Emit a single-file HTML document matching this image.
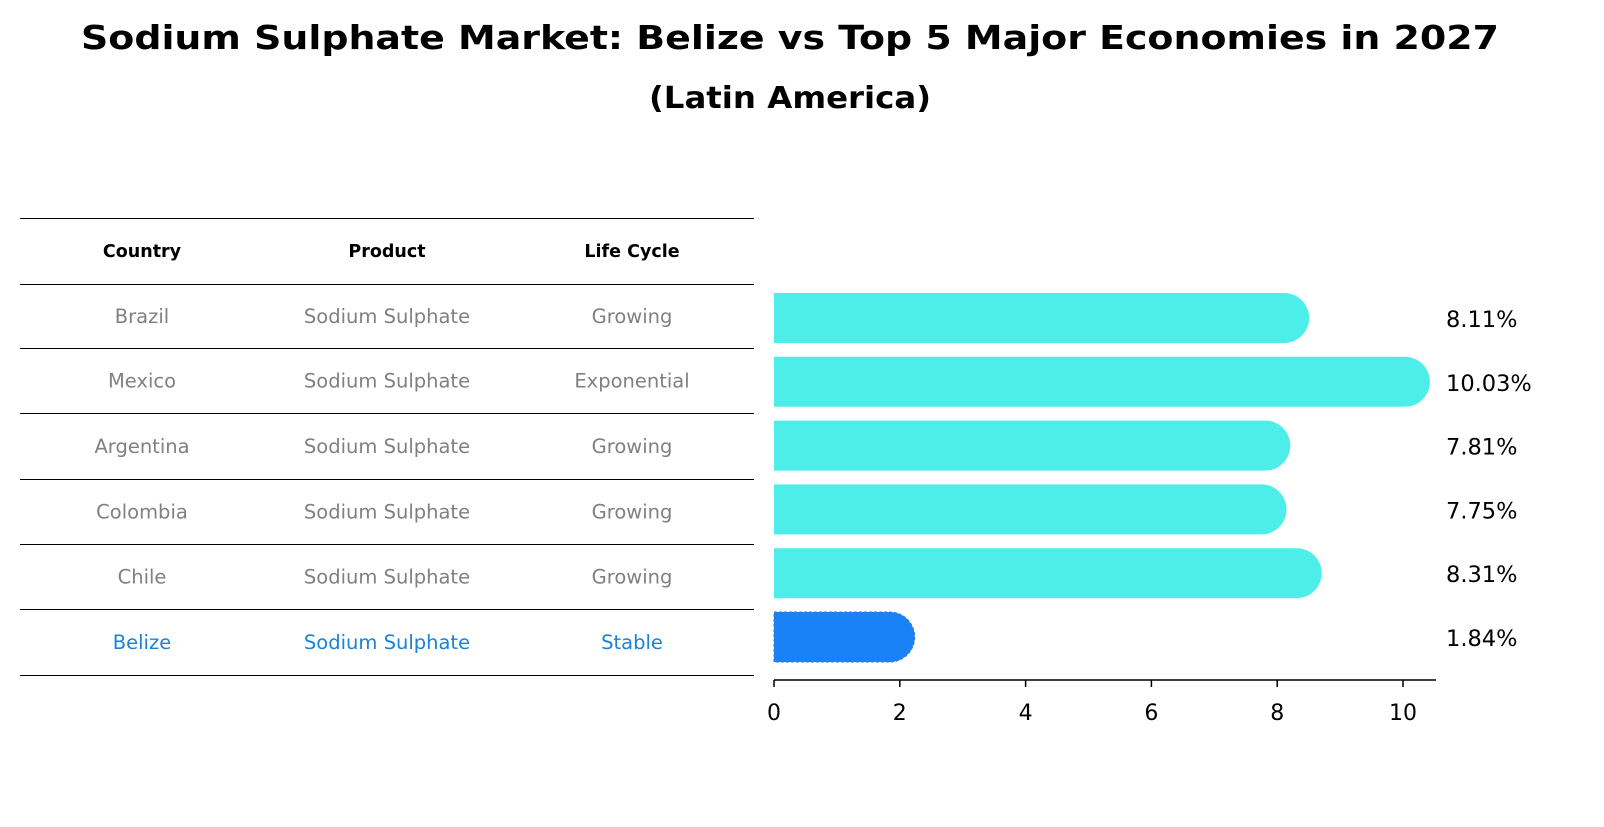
<!DOCTYPE html>
<html><head><meta charset="utf-8"><style>
body{margin:0;background:#fff;font-family:"DejaVu Sans","Liberation Sans",sans-serif;}
svg text{font-family:"DejaVu Sans","Liberation Sans",sans-serif;}
</style></head><body>
<svg id="c" width="1604" height="823" xmlns="http://www.w3.org/2000/svg">
<text x="790" y="49" text-anchor="middle" font-size="33" font-weight="bold" textLength="1418" lengthAdjust="spacingAndGlyphs">Sodium Sulphate Market: Belize vs Top 5 Major Economies in 2027</text>
<text x="790" y="108" text-anchor="middle" font-size="30" font-weight="bold" textLength="282" lengthAdjust="spacingAndGlyphs">(Latin America)</text>
<g id="tbl"></g>
<g id="bars"></g>
</svg>
<script>
const countries=["Brazil","Mexico","Argentina","Colombia","Chile","Belize"];
const products=["Sodium Sulphate","Sodium Sulphate","Sodium Sulphate","Sodium Sulphate","Sodium Sulphate","Sodium Sulphate"];
const lifeCycles=["Growing","Exponential","Growing","Growing","Growing","Stable"];
const values=[8.11,10.03,7.81,7.75,8.31,1.84];
const ticks=[0,2,4,6,8,10];
const NS="http://www.w3.org/2000/svg";
function mk(t,a,p,txt){const e=document.createElementNS(NS,t);for(const k in a)e.setAttribute(k,a[k]);if(txt!==undefined)e.textContent=txt;p.appendChild(e);return e;}
const tbl=document.getElementById('tbl');
const lines=[218,284,348,413,479,544,609,675];
lines.forEach(y=>{const l=mk('line',{x1:20,x2:754,y1:y+0.5,y2:y+0.5,stroke:'#000','stroke-width':1},tbl);

});
const cx=[142,387,632];
["Country","Product","Life Cycle"].forEach((h,i)=>{const t=mk('text',{x:cx[i],y:257,'text-anchor':'middle','font-size':17.5,'font-weight':'bold'},tbl,h);

});
countries.forEach((c,i)=>{const y=(lines[i+1]+lines[i+2])/2+7;const col=c==="Belize"?"#1a82d8":"#808080";
[c,products[i],lifeCycles[i]].forEach((v,j)=>{const t=mk('text',{x:cx[j],y:y,'text-anchor':'middle','font-size':19.5,fill:col},tbl,v);

});});
const bars=document.getElementById('bars');
const x0=774,ppu=62.9;const xs=v=>x0+v*ppu;
const rowY=i=>318+i*63.8;const bh=50;
values.forEach((v,i)=>{const y=rowY(i);const col=countries[i]==="Belize"?"#1a82f7":"#4deeea";
const p=mk('path',{d:`M${x0},${y-bh/2} H${xs(v)} A${bh/2},${bh/2} 0 0 1 ${xs(v)},${y+bh/2} H${x0} Z`,fill:col},bars);
if(countries[i]==="Belize"){p.setAttribute('stroke','#3a7ad8');p.setAttribute('stroke-dasharray','3,2');}


const t=mk('text',{x:1446,y:y+9,'font-size':22.5},bars,v.toFixed(2)+'%');

});
const ax=mk('line',{x1:x0,x2:1436,y1:680,y2:680,stroke:'#000','stroke-width':1.5},bars);


ticks.forEach(t=>{const l=mk('line',{x1:xs(t),x2:xs(t),y1:680,y2:687,stroke:'#000','stroke-width':1.5},bars);


const tx=mk('text',{x:xs(t),y:720,'text-anchor':'middle','font-size':22},bars,String(t));

});
</script>
</body></html>
